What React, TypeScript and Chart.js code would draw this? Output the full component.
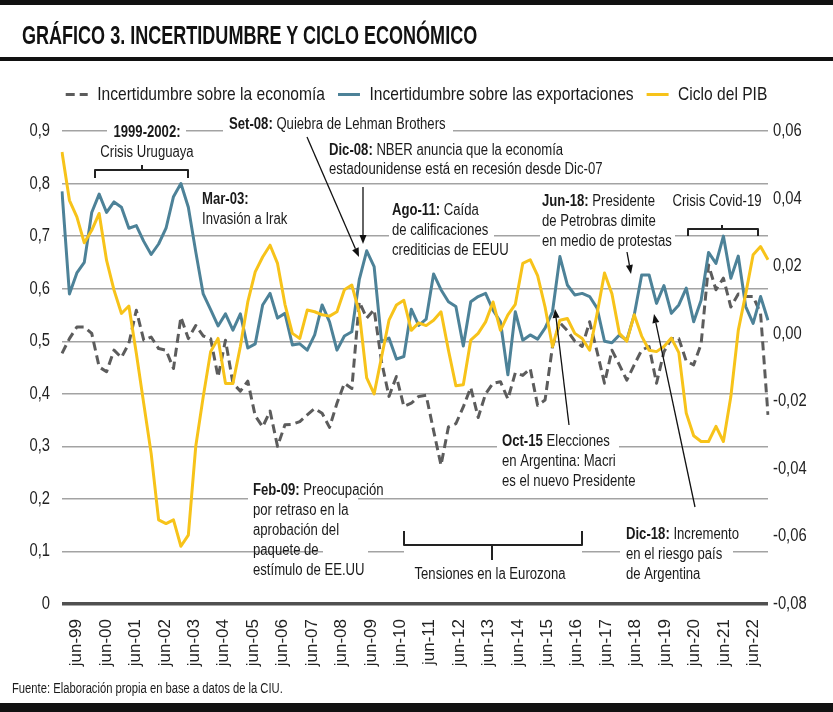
import React, { useEffect, useLayoutEffect, useMemo, useRef } from 'react';
import { Chart, registerables } from 'chart.js';

Chart.register(...registerables);

// ---------- DATA ----------
const trimestres = [
  'mar-99', 'jun-99', 'sep-99', 'dic-99',
  'mar-00', 'jun-00', 'sep-00', 'dic-00',
  'mar-01', 'jun-01', 'sep-01', 'dic-01',
  'mar-02', 'jun-02', 'sep-02', 'dic-02',
  'mar-03', 'jun-03', 'sep-03', 'dic-03',
  'mar-04', 'jun-04', 'sep-04', 'dic-04',
  'mar-05', 'jun-05', 'sep-05', 'dic-05',
  'mar-06', 'jun-06', 'sep-06', 'dic-06',
  'mar-07', 'jun-07', 'sep-07', 'dic-07',
  'mar-08', 'jun-08', 'sep-08', 'dic-08',
  'mar-09', 'jun-09', 'sep-09', 'dic-09',
  'mar-10', 'jun-10', 'sep-10', 'dic-10',
  'mar-11', 'jun-11', 'sep-11', 'dic-11',
  'mar-12', 'jun-12', 'sep-12', 'dic-12',
  'mar-13', 'jun-13', 'sep-13', 'dic-13',
  'mar-14', 'jun-14', 'sep-14', 'dic-14',
  'mar-15', 'jun-15', 'sep-15', 'dic-15',
  'mar-16', 'jun-16', 'sep-16', 'dic-16',
  'mar-17', 'jun-17', 'sep-17', 'dic-17',
  'mar-18', 'jun-18', 'sep-18', 'dic-18',
  'mar-19', 'jun-19', 'sep-19', 'dic-19',
  'mar-20', 'jun-20', 'sep-20', 'dic-20',
  'mar-21', 'jun-21', 'sep-21', 'dic-21',
  'mar-22', 'jun-22', 'sep-22', 'dic-22',
];

// tick-label axis of the original (one extra leading slot)
const etiquetasEje = ['dic-98', ...trimestres];

const serieNombres = [
  'Incertidumbre sobre la economía',
  'Incertidumbre sobre las exportaciones',
  'Ciclo del PIB',
];

// left axis
const incertidumbreEconomia = [
  0.477, 0.505, 0.527, 0.527, 0.515, 0.451, 0.442, 0.483, 0.469, 0.496,
  0.559, 0.502, 0.508, 0.486, 0.483, 0.448, 0.546, 0.505, 0.530, 0.510,
  0.505, 0.432, 0.502, 0.420, 0.405, 0.424, 0.358, 0.337, 0.367, 0.300,
  0.341, 0.342, 0.347, 0.360, 0.372, 0.363, 0.336, 0.382, 0.420, 0.410,
  0.575, 0.544, 0.560, 0.461, 0.395, 0.433, 0.376, 0.382, 0.395, 0.397,
  0.330, 0.264, 0.337, 0.343, 0.375, 0.412, 0.355, 0.400, 0.420, 0.423,
  0.390, 0.440, 0.435, 0.448, 0.378, 0.388, 0.490, 0.535, 0.520, 0.500,
  0.490, 0.537, 0.480, 0.420, 0.483, 0.455, 0.426, 0.455, 0.483, 0.490,
  0.420, 0.480, 0.505, 0.505, 0.462, 0.455, 0.495, 0.645, 0.598, 0.620,
  0.565, 0.590, 0.585, 0.585, 0.553, 0.360,
];

// left axis
const incertidumbreExportaciones = [
  0.785, 0.590, 0.630, 0.650, 0.745, 0.780, 0.745, 0.765, 0.755, 0.715,
  0.720, 0.690, 0.665, 0.685, 0.715, 0.775, 0.800, 0.755, 0.670, 0.590,
  0.560, 0.529, 0.552, 0.521, 0.552, 0.487, 0.495, 0.569, 0.591, 0.544,
  0.553, 0.493, 0.495, 0.483, 0.512, 0.569, 0.537, 0.483, 0.510, 0.518,
  0.617, 0.672, 0.642, 0.499, 0.506, 0.466, 0.471, 0.561, 0.530, 0.542,
  0.628, 0.598, 0.575, 0.566, 0.491, 0.575, 0.585, 0.591, 0.559, 0.537,
  0.436, 0.556, 0.502, 0.512, 0.504, 0.525, 0.556, 0.661, 0.607, 0.588,
  0.591, 0.585, 0.563, 0.500, 0.497, 0.512, 0.502, 0.550, 0.626, 0.626,
  0.572, 0.606, 0.553, 0.569, 0.601, 0.537, 0.578, 0.669, 0.648, 0.700,
  0.620, 0.662, 0.566, 0.534, 0.585, 0.540,
];

// right axis
const cicloPIB = [
  0.0538, 0.0395, 0.0346, 0.0269, 0.0306, 0.0356, 0.0217, 0.0129, 0.0060, 0.0082,
  -0.0058, -0.0207, -0.0355, -0.0551, -0.0562, -0.0551, -0.0629, -0.0596, -0.0333, -0.0187,
  -0.0053, -0.0014, -0.0147, -0.0147, -0.0038, 0.0094, 0.0183, 0.0227, 0.0262, 0.0208,
  0.0087, 0.0001, -0.0014, 0.0070, 0.0065, 0.0056, 0.0052, 0.0065, 0.0130, 0.0144,
  0.0063, -0.0131, -0.0178, -0.0069, 0.0040, 0.0085, 0.0099, 0.0010, 0.0032, 0.0024,
  0.0040, 0.0065, -0.0049, -0.0154, -0.0151, -0.0019, 0.0001, 0.0035, 0.0094, 0.0010,
  0.0056, 0.0087, 0.0208, 0.0219, 0.0172, 0.0079, -0.0038, 0.0040, 0.0045, 0.0001,
  -0.0014, -0.0049, 0.0059, 0.0180, 0.0118, 0.0001, -0.0022, 0.0056, -0.0007, -0.0049,
  -0.0053, -0.0038, -0.0013, -0.0056, -0.0235, -0.0302, -0.0319, -0.0319, -0.0274, -0.0319,
  -0.0186, 0.0010, 0.0118, 0.0234, 0.0258, 0.0219,
];

const ejeIzq = { min: 0, max: 0.9, paso: 0.1 };
const ejeDer = { min: -0.08, max: 0.06, paso: 0.02 };

// ---------- STYLE ----------
const COLOR_ECON = '#5c5c5c';
const COLOR_EXPO = '#4d8298';
const COLOR_PIB = '#f7c31a';
const TEXTO = '#1a1a1a';

type Parte = { t: string; b?: boolean };
type Nota = { x: number; y: number; align?: 'left' | 'center'; parts: Parte[] };

const NOTAS: Nota[] = [
  { x: 147, y: 133, align: 'center', parts: [{ t: '1999-2002:', b: true }] },
  { x: 147, y: 153, align: 'center', parts: [{ t: 'Crisis Uruguaya' }] },
  { x: 229, y: 125, parts: [{ t: 'Set-08:', b: true }, { t: ' Quiebra de Lehman Brothers' }] },
  { x: 329, y: 151, parts: [{ t: 'Dic-08:', b: true }, { t: ' NBER anuncia que la economía' }] },
  { x: 329, y: 170, parts: [{ t: 'estadounidense está en recesión desde Dic-07' }] },
  { x: 202, y: 200, parts: [{ t: 'Mar-03:', b: true }] },
  { x: 202, y: 220, parts: [{ t: 'Invasión a Irak' }] },
  { x: 392, y: 211, parts: [{ t: 'Ago-11:', b: true }, { t: ' Caída' }] },
  { x: 392, y: 231, parts: [{ t: 'de calificaciones' }] },
  { x: 392, y: 251, parts: [{ t: 'crediticias de EEUU' }] },
  { x: 542, y: 202, parts: [{ t: 'Jun-18:', b: true }, { t: ' Presidente' }] },
  { x: 542, y: 222, parts: [{ t: 'de Petrobras dimite' }] },
  { x: 542, y: 242, parts: [{ t: 'en medio de protestas' }] },
  { x: 717, y: 202, align: 'center', parts: [{ t: 'Crisis Covid-19' }] },
  { x: 502, y: 442, parts: [{ t: 'Oct-15', b: true }, { t: ' Elecciones' }] },
  { x: 502, y: 462, parts: [{ t: 'en Argentina: Macri' }] },
  { x: 502, y: 482, parts: [{ t: 'es el nuevo Presidente' }] },
  { x: 253, y: 491, parts: [{ t: 'Feb-09:', b: true }, { t: ' Preocupación' }] },
  { x: 253, y: 511, parts: [{ t: 'por retraso en la' }] },
  { x: 253, y: 531, parts: [{ t: 'aprobación del' }] },
  { x: 253, y: 551, parts: [{ t: 'paquete de' }] },
  { x: 253, y: 571, parts: [{ t: 'estímulo de EE.UU' }] },
  { x: 626, y: 535, parts: [{ t: 'Dic-18:', b: true }, { t: ' Incremento' }] },
  { x: 626, y: 555, parts: [{ t: 'en el riesgo país' }] },
  { x: 626, y: 575, parts: [{ t: 'de Argentina' }] },
  { x: 490, y: 575, align: 'center', parts: [{ t: 'Tensiones en la Eurozona' }] },
];

const HUECOS = [
  { v: 0.9, x1: 107, x2: 186 },
  { v: 0.9, x1: 223, x2: 453 },
  { v: 0.7, x1: 389, x2: 494 },
  { v: 0.7, x1: 540, x2: 675 },
  { v: 0.3, x1: 497, x2: 619 },
  { v: 0.2, x1: 248, x2: 358 },
  { v: 0.1, x1: 323, x2: 368 },
  { v: 0.1, x1: 404, x2: 582 },
  { v: 0.1, x1: 620, x2: 733 },
];

const LLAVES: number[][][] = [
  [[95, 178], [95, 170], [188, 170], [188, 178]],
  [[142, 170], [142, 165]],
  [[688, 236], [688, 229], [758, 229], [758, 236]],
  [[722, 229], [722, 225]],
  [[404, 531], [404, 545], [582, 545], [582, 531]],
  [[492, 545], [492, 560]],
];

const FLECHAS: number[][] = [
  [307, 137, 359, 257],
  [363, 187, 363, 244],
  [627, 252, 631, 274],
  [569, 425, 555, 309],
  [695, 507, 654, 314],
];

// ---------- FONT HELPERS ----------
const K = 0.82;

function fontDisponible(nombre: string): boolean {
  const c = document.createElement('canvas').getContext('2d');
  if (!c) return false;
  const s = 'abcdefghijklmnopqrstuvwxyzABCDEFGHIJ0123456789,.-';
  for (const base of ['monospace', 'serif']) {
    c.font = `40px ${base}`;
    const w0 = c.measureText(s).width;
    c.font = `40px "${nombre}", ${base}`;
    const w1 = c.measureText(s).width;
    if (Math.abs(w0 - w1) > 0.5) return true;
  }
  return false;
}

function elegirFuente() {
  for (const n of ['Liberation Sans Narrow', 'Arial Narrow']) {
    if (fontDisponible(n)) return { familia: `"${n}"`, narrow: true };
  }
  return { familia: '"Liberation Sans", zzcond', narrow: false };
}

function parchearContexto(ctx: CanvasRenderingContext2D) {
  const fill = ctx.fillText.bind(ctx);
  const measure = ctx.measureText.bind(ctx);
  (ctx as any).fillText = function (text: string, x: number, y: number, maxWidth?: number) {
    if (ctx.font.indexOf('zzcond') === -1) {
      if (maxWidth === undefined) fill(text, x, y);
      else fill(text, x, y, maxWidth);
      return;
    }
    ctx.save();
    ctx.translate(x, y);
    ctx.scale(K, 1);
    fill(text, 0, 0);
    ctx.restore();
  };
  (ctx as any).measureText = function (text: string) {
    const m = measure(text);
    if (ctx.font.indexOf('zzcond') === -1) return m;
    return {
      width: m.width * K,
      actualBoundingBoxAscent: m.actualBoundingBoxAscent,
      actualBoundingBoxDescent: m.actualBoundingBoxDescent,
      actualBoundingBoxLeft: m.actualBoundingBoxLeft * K,
      actualBoundingBoxRight: m.actualBoundingBoxRight * K,
      fontBoundingBoxAscent: m.fontBoundingBoxAscent,
      fontBoundingBoxDescent: m.fontBoundingBoxDescent,
    } as TextMetrics;
  };
}

function dibujarNota(ctx: CanvasRenderingContext2D, n: Nota, fam: string) {
  const size = 16;
  const fonts = n.parts.map((p) => `${p.b ? 'bold ' : ''}${size}px ${fam}`);
  const widths = n.parts.map((p, i) => {
    ctx.font = fonts[i];
    return ctx.measureText(p.t).width;
  });
  const total = widths.reduce((a, b) => a + b, 0);
  let cx = n.align === 'center' ? n.x - total / 2 : n.x;
  ctx.textAlign = 'left';
  ctx.textBaseline = 'middle';
  n.parts.forEach((p, i) => {
    ctx.font = fonts[i];
    ctx.fillText(p.t, cx, n.y);
    cx += widths[i];
  });
}

function dibujarFlecha(ctx: CanvasRenderingContext2D, x1: number, y1: number, x2: number, y2: number) {
  const ang = Math.atan2(y2 - y1, x2 - x1);
  const L = 9;
  const W = 3.5;
  const bx = x2 - L * Math.cos(ang);
  const by = y2 - L * Math.sin(ang);
  ctx.beginPath();
  ctx.moveTo(x1, y1);
  ctx.lineTo(bx, by);
  ctx.stroke();
  ctx.beginPath();
  ctx.moveTo(x2, y2);
  ctx.lineTo(bx + W * Math.sin(ang), by - W * Math.cos(ang));
  ctx.lineTo(bx - W * Math.sin(ang), by + W * Math.cos(ang));
  ctx.closePath();
  ctx.fill();
}

export default function App() {
  const ref = useRef<HTMLCanvasElement>(null);
  const tituloRef = useRef<HTMLSpanElement>(null);
  const fuenteRef = useRef<HTMLSpanElement>(null);
  const fuente = useMemo(() => elegirFuente(), []);
  const F = fuente.familia;

  // fit title & footnote to the reference widths
  useLayoutEffect(() => {
    const ajustar = (el: HTMLSpanElement | null, ancho: number) => {
      if (!el) return;
      const w = el.offsetWidth;
      if (w > 0) el.style.transform = `scaleX(${ancho / w})`;
    };
    ajustar(tituloRef.current, 455);
    ajustar(fuenteRef.current, 271);
  }, []);

  useEffect(() => {
    const canvas = ref.current;
    if (!canvas) return;
    const ctx = canvas.getContext('2d');
    if (!ctx) return;
    if (!fuente.narrow) parchearContexto(ctx);

    const anotaciones = {
      id: 'anotaciones',
      beforeDatasetsDraw(chart: any) {
        const c: CanvasRenderingContext2D = chart.ctx;
        const y = chart.scales.y;
        c.save();
        c.fillStyle = '#ffffff';
        for (const g of HUECOS) {
          const py = y.getPixelForValue(g.v);
          c.fillRect(g.x1, py - 2.5, g.x2 - g.x1, 5);
        }
        c.strokeStyle = '#222222';
        c.lineWidth = 2;
        c.lineJoin = 'round';
        c.lineCap = 'butt';
        for (const b of LLAVES) {
          c.beginPath();
          b.forEach(([px, py], i) => (i ? c.lineTo(px, py) : c.moveTo(px, py)));
          c.stroke();
        }
        c.fillStyle = TEXTO;
        for (const n of NOTAS) dibujarNota(c, n, F);
        c.restore();
      },
      afterDatasetsDraw(chart: any) {
        const c: CanvasRenderingContext2D = chart.ctx;
        c.save();
        c.strokeStyle = '#111111';
        c.fillStyle = '#111111';
        c.lineWidth = 1.3;
        for (const f of FLECHAS) dibujarFlecha(c, f[0], f[1], f[2], f[3]);
        c.restore();
      },
    };

    const datasets = [
      {
        label: serieNombres[0],
        data: incertidumbreEconomia,
        borderColor: COLOR_ECON,
        backgroundColor: COLOR_ECON,
        borderWidth: 3,
        borderDash: [9, 5],
        pointRadius: 0,
        tension: 0,
        borderJoinStyle: 'round',
        xAxisID: 'x',
        yAxisID: 'y',
        order: 3,
      },
      {
        label: serieNombres[1],
        data: incertidumbreExportaciones,
        borderColor: COLOR_EXPO,
        backgroundColor: COLOR_EXPO,
        borderWidth: 3,
        pointRadius: 0,
        tension: 0,
        borderJoinStyle: 'round',
        xAxisID: 'x',
        yAxisID: 'y',
        order: 2,
      },
      {
        label: serieNombres[2],
        data: cicloPIB,
        borderColor: COLOR_PIB,
        backgroundColor: COLOR_PIB,
        borderWidth: 3,
        pointRadius: 0,
        tension: 0,
        borderJoinStyle: 'round',
        xAxisID: 'x',
        yAxisID: 'y1',
        order: 1,
      },
    ];

    const chart = new Chart(ctx, {
      type: 'line',
      data: { labels: trimestres, datasets: datasets as any },
      options: {
        responsive: false,
        animation: false,
        devicePixelRatio: 1,
        layout: { padding: { top: 72, left: 0, right: 0, bottom: 0 } },
        plugins: {
          tooltip: { enabled: false },
          title: { display: false },
          legend: {
            position: 'top',
            labels: {
              font: { family: F, size: 19 },
              color: TEXTO,
              usePointStyle: true,
              pointStyleWidth: 22,
              padding: 13,
              generateLabels: (ch: any) =>
                ch.data.datasets.map((ds: any, i: number) => ({
                  text: ds.label,
                  strokeStyle: ds.borderColor,
                  fillStyle: ds.borderColor,
                  lineWidth: 3,
                  lineDash: ds.borderDash || [],
                  lineCap: 'butt',
                  pointStyle: 'line',
                  hidden: false,
                  fontColor: TEXTO,
                  datasetIndex: i,
                })),
            },
          },
          subtitle: {
            display: true,
            text: '',
            position: 'top',
            weight: 500,
            padding: 0,
            font: { size: 17, lineHeight: 1 },
          } as any,
        },
        scales: {
          x: {
            type: 'category',
            display: false,
            offset: false,
          },
          xEje: {
            type: 'category',
            position: 'bottom',
            labels: etiquetasEje,
            offset: false,
            grid: { display: false, drawTicks: false },
            border: { display: false },
            ticks: {
              autoSkip: false,
              maxRotation: 90,
              minRotation: 90,
              padding: 15,
              color: '#222222',
              font: { family: '"Liberation Sans", Arial, sans-serif', size: 17 },
              callback: (_v: any, i: number) => (etiquetasEje[i].startsWith('jun') ? etiquetasEje[i] : ''),
            },
            afterFit: (s: any) => {
              s.height = 108;
            },
          },
          y: {
            position: 'left',
            min: ejeIzq.min,
            max: ejeIzq.max,
            ticks: {
              stepSize: ejeIzq.paso,
              padding: 12,
              color: '#222222',
              font: { family: F, size: 18 },
              callback: (v: any) => {
                const n = Number(v);
                if (Math.abs(n) < 1e-9) return '0';
                return n.toFixed(1).replace('.', ',');
              },
            },
            grid: {
              drawTicks: false,
              color: (c: any) => (Math.abs(c.tick.value) < 1e-9 ? '#505050' : '#a3a3a3'),
              lineWidth: (c: any) => (Math.abs(c.tick.value) < 1e-9 ? 3.5 : 1.4),
            },
            border: { display: false },
            afterFit: (s: any) => {
              s.width = 62;
            },
          },
          y1: {
            position: 'right',
            min: ejeDer.min,
            max: ejeDer.max,
            ticks: {
              stepSize: ejeDer.paso,
              padding: 5,
              color: '#222222',
              font: { family: F, size: 18 },
              callback: (v: any) => {
                const n = Number(v);
                if (Math.abs(n) < 1e-9) return '0,00';
                return n.toFixed(2).replace('.', ',');
              },
            },
            grid: { display: false, drawTicks: false },
            border: { display: false },
            afterFit: (s: any) => {
              s.width = 65;
            },
          },
        },
      } as any,
      plugins: [anotaciones],
    });

    return () => chart.destroy();
  }, [fuente]);

  const familiaHtml = fuente.narrow ? F : '"Liberation Sans", Arial, sans-serif';

  return (
    <div
      style={{
        position: 'absolute',
        left: 0,
        top: 0,
        width: 833,
        height: 712,
        background: '#ffffff',
        overflow: 'hidden',
      }}
    >
      <canvas
        ref={ref}
        width={833}
        height={712}
        style={{ position: 'absolute', left: 0, top: 0, width: 833, height: 712 }}
      />
      <div style={{ position: 'absolute', left: 0, top: 0, width: 833, height: 5, background: '#111' }} />
      <span
        ref={tituloRef}
        style={{
          position: 'absolute',
          left: 22,
          top: 22,
          display: 'inline-block',
          whiteSpace: 'nowrap',
          fontFamily: familiaHtml,
          fontSize: 26,
          lineHeight: '26px',
          fontWeight: 'bold',
          color: '#111',
          transformOrigin: '0 50%',
        }}
      >
        GRÁFICO 3. INCERTIDUMBRE Y CICLO ECONÓMICO
      </span>
      <div style={{ position: 'absolute', left: 0, top: 57, width: 833, height: 4, background: '#111' }} />
      <span
        ref={fuenteRef}
        style={{
          position: 'absolute',
          left: 12,
          top: 681,
          display: 'inline-block',
          whiteSpace: 'nowrap',
          fontFamily: familiaHtml,
          fontSize: 14,
          lineHeight: '14px',
          color: TEXTO,
          transformOrigin: '0 50%',
        }}
      >
        Fuente: Elaboración propia en base a datos de la CIU.
      </span>
      <div style={{ position: 'absolute', left: 0, top: 703, width: 833, height: 9, background: '#111' }} />
    </div>
  );
}
